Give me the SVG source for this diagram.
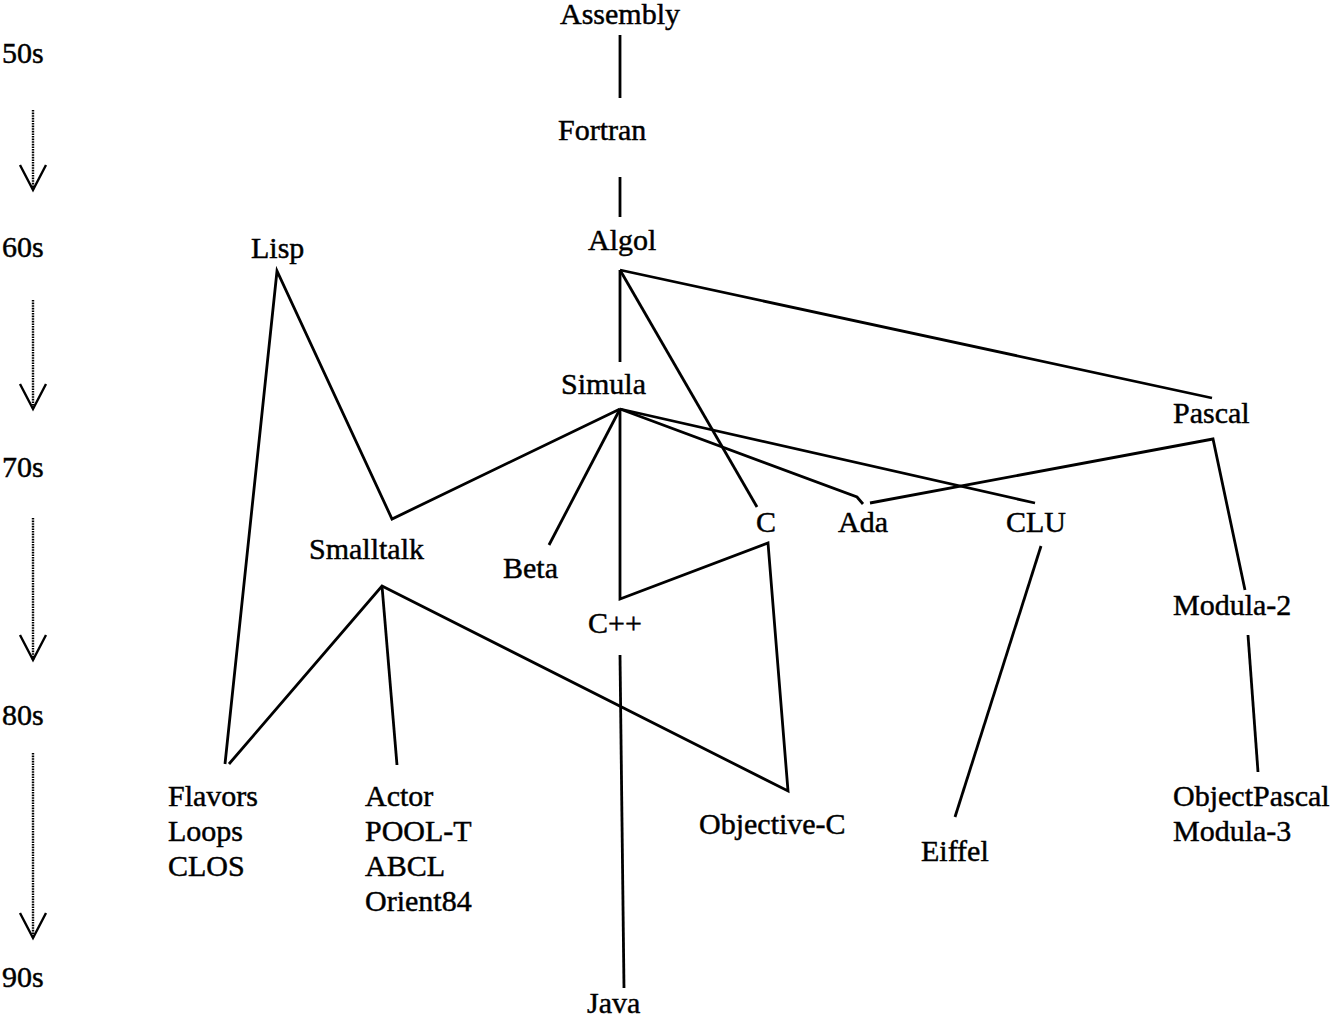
<svg xmlns="http://www.w3.org/2000/svg" width="1332" height="1016" viewBox="0 0 1332 1016">
  <style>
    .lbl { font-family: 'Liberation Serif', 'Times New Roman', Times, serif; font-size: 30px; fill: #000; stroke: #000; stroke-width: 0.45; }
    .edge { fill: none; stroke: #000; stroke-width: 2.8; stroke-linejoin: miter; stroke-linecap: butt; }
    .time { fill: none; stroke: #000; stroke-width: 2.4; stroke-dasharray: 1.6 1; }
    .head { fill: none; stroke: #000; stroke-width: 2.4; }
  </style>
  <rect width="1332" height="1016" fill="#fff"/>

  <!-- decade scale on the left -->
  <g id="timeline">
    <g class="lbl">
      <text x="2" y="63">50s</text>
      <text x="2" y="257">60s</text>
      <text x="2" y="477">70s</text>
      <text x="2" y="725">80s</text>
      <text x="2" y="987">90s</text>
    </g>
    <line class="time" x1="33" y1="110" x2="33" y2="190"/>
    <polyline class="head" points="20,165 33,190 46,165"/>
    <line class="time" x1="33" y1="300" x2="33" y2="409"/>
    <polyline class="head" points="20,384 33,409 46,384"/>
    <line class="time" x1="33" y1="518" x2="33" y2="660"/>
    <polyline class="head" points="20,635 33,660 46,635"/>
    <line class="time" x1="33" y1="753" x2="33" y2="938"/>
    <polyline class="head" points="20,913 33,938 46,913"/>
  </g>

  <!-- lineage connectors -->
  <g id="connectors">
    <line class="edge" x1="620" y1="35" x2="620" y2="98"/>
    <line class="edge" x1="620" y1="177" x2="620" y2="217"/>
    <line class="edge" x1="620" y1="270" x2="620" y2="362"/>
    <line class="edge" x1="620" y1="270" x2="757" y2="507"/>
    <line class="edge" x1="620" y1="270" x2="1212" y2="398"/>
    <polyline class="edge" points="225,764 277,271 392,519 620,409"/>
    <line class="edge" x1="620" y1="409" x2="549" y2="545"/>
    <polyline class="edge" points="620,409 620,599 768,543 788,791 382,586 229,764"/>
    <line class="edge" x1="382" y1="586" x2="397" y2="765"/>
    <polyline class="edge" points="620,409 857,497 863,504"/>
    <line class="edge" x1="620" y1="409" x2="1035" y2="503"/>
    <polyline class="edge" points="870,503 1213,439 1245,590"/>
    <line class="edge" x1="1248" y1="635" x2="1258" y2="772"/>
    <line class="edge" x1="1041" y1="546" x2="955" y2="817"/>
    <line class="edge" x1="620" y1="655" x2="624" y2="988"/>
  </g>

  <!-- languages -->
  <g class="lbl">
    <g id="assembly"><text x="560" y="24">Assembly</text></g>
    <g id="fortran"><text x="558" y="140">Fortran</text></g>
    <g id="algol"><text x="588" y="250">Algol</text></g>
    <g id="lisp"><text x="251" y="258">Lisp</text></g>
    <g id="simula"><text x="561" y="394">Simula</text></g>
    <g id="pascal"><text x="1173" y="423">Pascal</text></g>
    <g id="smalltalk"><text x="309" y="559">Smalltalk</text></g>
    <g id="c"><text x="756" y="532">C</text></g>
    <g id="ada"><text x="838" y="532">Ada</text></g>
    <g id="clu"><text x="1006" y="532">CLU</text></g>
    <g id="beta"><text x="503" y="578">Beta</text></g>
    <g id="cpp"><text x="588" y="633">C++</text></g>
    <g id="modula2"><text x="1173" y="615">Modula-2</text></g>
    <g id="flavors-family">
      <text x="168" y="806">Flavors</text>
      <text x="168" y="841">Loops</text>
      <text x="168" y="876">CLOS</text>
    </g>
    <g id="actor-family">
      <text x="365" y="806">Actor</text>
      <text x="365" y="841">POOL-T</text>
      <text x="365" y="876">ABCL</text>
      <text x="365" y="911">Orient84</text>
    </g>
    <g id="objective-c"><text x="699" y="834">Objective-C</text></g>
    <g id="eiffel"><text x="921" y="861">Eiffel</text></g>
    <g id="objectpascal-family">
      <text x="1173" y="806">ObjectPascal</text>
      <text x="1173" y="841">Modula-3</text>
    </g>
    <g id="java"><text x="587" y="1013">Java</text></g>
  </g>
</svg>
